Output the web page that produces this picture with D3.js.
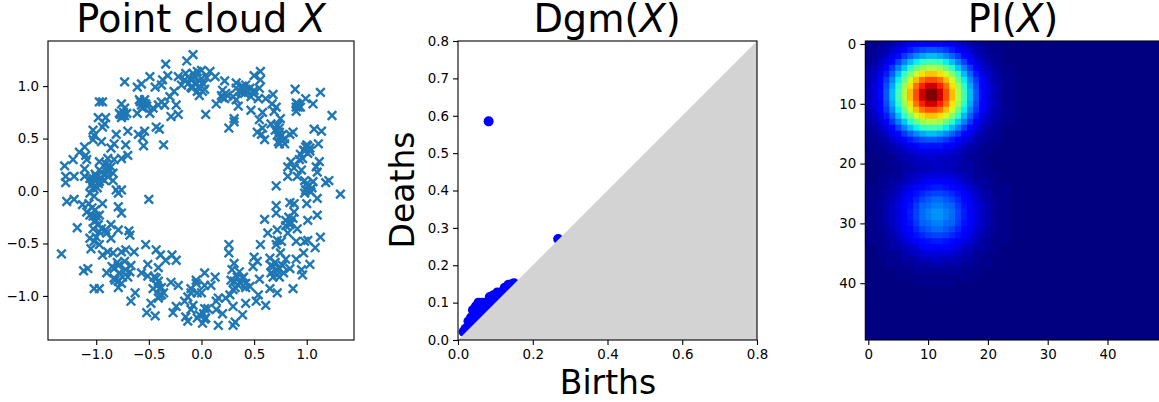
<!DOCTYPE html>
<html>
<head>
<meta charset="utf-8">
<script src="https://cdn.jsdelivr.net/npm/d3@7"></script>
<style>
  body { margin: 0; background: white; overflow: hidden; }
  text { font-family: "DejaVu Sans", sans-serif; fill: black; }
</style>
</head>
<body>
<div id="wrapper"></div>
<script>
// point cloud
const cloudX = [
  -0.08,-0.14,-0.34,-0.73,-0.61,-0.57,-0.49,-0.44,-0.37,-0.32,-0.38,-0.22,-0.15,-0.16,-0.08,-0.04,-0.11,-0.05,-0.04,-0.10,
  -0.19,-0.26,-0.30,-0.38,-0.35,-0.41,-0.24,-0.22,-0.29,-0.97,-0.94,-0.76,-0.73,-0.78,-0.75,-0.71,-0.76,-0.61,-0.59,-0.54,
  -0.57,-0.53,-0.56,-0.49,-0.46,-0.98,-0.91,-0.92,-0.94,-0.70,-1.03,-1.02,-0.81,-0.60,-0.54,-0.56,-0.43,-0.40,-0.55,-0.72,
  -0.36,-1.03,-0.95,-0.83,-0.86,-1.11,-1.16,-1.22,-1.30,-1.10,-1.09,-0.70,-0.76,-0.83,-0.89,-0.97,-0.91,-0.86,-0.84,-0.89,
  -0.95,-1.00,-1.11,-1.11,-1.06,-1.03,-0.97,-0.92,-0.89,-0.84,-1.21,-1.29,-1.29,-1.03,-0.81,-0.76,
  0.00,0.08,0.13,0.00,0.01,-0.02,0.22,0.50,0.56,0.56,0.20,0.19,0.22,0.33,0.38,0.42,0.36,0.41,0.46,0.50,
  0.55,0.30,0.33,0.35,0.14,0.47,0.54,0.61,0.68,0.67,0.71,0.69,0.47,0.58,0.04,0.31,0.31,0.26,0.55,0.75,
  0.66,0.72,0.74,0.58,0.53,0.57,0.60,0.72,0.76,0.79,0.74,0.79,0.87,0.84,0.89,0.99,1.13,1.06,0.91,0.90,
  0.92,0.90,1.24,1.07,1.14,1.11,1.00,1.03,0.98,1.01,0.96,0.93,0.85,0.82,0.88,1.12,1.09,1.10,0.95,0.82,
  0.91,0.98,1.06,1.01,0.99,1.21,1.18,0.71,
  -1.28,-1.21,-0.79,-0.50,-1.06,-1.02,-1.13,-0.94,-0.79,-0.76,-1.09,-1.06,-1.00,-0.97,-1.02,-1.18,-0.86,-1.03,-0.97,-0.91,
  -0.79,-0.69,-0.68,-0.86,-1.06,-1.02,-1.05,-0.97,-0.94,-0.89,-1.33,-0.84,-0.76,-0.72,-0.64,-0.53,-0.43,-0.39,-0.28,-0.34,
  -0.24,-0.51,-0.41,-1.08,-1.12,-0.90,-0.83,-0.79,-0.73,-0.67,-0.68,-0.78,-0.83,-0.70,-0.79,-0.76,-0.57,-0.51,-0.45,-0.41,
  -1.02,-0.97,-0.79,-0.63,-0.67,-0.46,-0.40,-0.29,-0.22,-0.38,-0.41,-0.48,-0.52,-0.44,-0.24,-0.27,-0.15,-0.13,-0.05,-0.10,
  -0.13,-0.16,-0.08,-0.10,-0.04,-0.04,
  1.32,0.98,1.04,1.10,1.00,0.71,0.71,0.84,0.88,1.10,0.60,0.80,0.87,0.84,1.01,0.91,0.72,0.63,0.82,0.56,
  0.72,0.71,0.76,0.90,0.98,1.01,1.13,1.08,0.97,0.26,0.26,0.75,0.50,0.53,0.65,0.90,0.31,0.49,0.29,0.36,
  0.66,0.71,0.77,0.84,1.03,0.96,0.95,0.66,0.74,0.03,0.13,0.55,0.39,0.31,0.35,0.42,0.46,0.87,0.09,0.03,
  0.65,0.30,0.27,0.72,0.54,0.16,0.23,0.00,0.14,0.61,0.42,0.52,0.03,0.30,0.14,0.20,0.39,0.04,0.01,0.16,
  0.30,0.32,-0.02,
  // the dense clumps
  -1.03,-1.00,-0.98,-0.95,-1.01,-0.97,-0.93,-1.05,-0.90,-0.99,
  -0.02,0.02,-0.07,-0.12,0.05,-0.03,0.03,-0.09,
  0.42,0.38,0.44,0.50,0.23,0.25,0.20,0.39,0.33,
  -0.55,-0.58,-0.52,-0.74,-0.77,-0.73,
  0.72,0.74,0.75,0.77,0.73,0.70,
  0.99,1.01,0.97,1.03,0.94,1.05,1.00,1.03,
  0.92,0.90,0.94,
  -1.00,-1.03,-0.98,-1.01,-1.07,-1.04,-0.95,-0.90,-1.00,
  0.83,0.85,0.80,0.88,
  0.68,0.70,0.74,0.78,0.72,0.68,0.80,
  0.34,0.37,0.32,0.40,0.28,0.42,
  -0.85,-0.80,-0.72,-0.75,-0.82,
  -0.42,-0.38,-0.40,-0.43,-0.36,
  -0.05,-0.10,0.03,0.02,0.06
];
const cloudY = [
  1.30,1.24,1.21,1.04,0.99,1.02,1.09,0.99,1.06,1.10,1.01,1.09,1.12,1.06,1.12,1.14,1.07,1.03,0.95,0.99,
  1.01,0.95,0.90,0.85,0.82,0.82,0.82,0.73,0.71,0.85,0.85,0.83,0.79,0.74,0.72,0.74,0.70,0.74,0.87,0.87,
  0.82,0.83,0.79,0.74,0.79,0.70,0.70,0.64,0.61,0.57,0.58,0.53,0.54,0.54,0.57,0.51,0.61,0.59,0.43,0.44,
  0.44,0.49,0.47,0.45,0.41,0.42,0.37,0.30,0.24,0.34,0.30,0.34,0.31,0.30,0.31,0.28,0.26,0.23,0.17,0.18,
  0.18,0.14,0.21,0.14,0.12,0.07,0.09,0.10,0.14,0.10,0.14,0.14,0.08,0.03,0.01,0.01,
  1.15,1.14,1.09,1.07,0.95,0.91,1.05,1.10,1.14,1.06,0.96,0.91,0.88,1.03,0.99,1.01,0.95,0.93,0.98,0.96,
  0.98,0.90,0.87,0.81,0.83,0.90,0.88,0.88,0.92,0.83,0.80,0.76,0.77,0.75,0.73,0.69,0.66,0.60,0.68,0.69,
  0.64,0.63,0.60,0.60,0.56,0.54,0.49,0.53,0.53,0.50,0.45,0.45,0.56,0.54,0.97,0.88,0.94,0.83,0.83,0.80,
  0.82,0.76,0.72,0.59,0.57,0.45,0.44,0.41,0.38,0.36,0.31,0.30,0.28,0.23,0.22,0.28,0.23,0.18,0.20,0.14,
  0.14,0.10,0.09,0.04,0.01,0.10,0.08,0.05,
  -0.10,-0.08,-0.02,-0.08,-0.02,-0.05,-0.13,-0.12,-0.15,-0.21,-0.20,-0.23,-0.24,-0.23,-0.29,-0.35,-0.32,-0.36,-0.39,-0.37,
  -0.37,-0.38,-0.42,-0.45,-0.45,-0.48,-0.55,-0.51,-0.61,-0.58,-0.60,-0.59,-0.58,-0.56,-0.58,-0.51,-0.56,-0.61,-0.61,-0.66,
  -0.66,-0.70,-0.73,-0.74,-0.76,-0.78,-0.74,-0.71,-0.67,-0.71,-0.77,-0.78,-0.83,-0.82,-0.86,-0.88,-0.78,-0.81,-0.82,-0.86,
  -0.93,-0.93,-0.92,-0.97,-1.05,-0.93,-0.93,-0.87,-0.90,-0.99,-1.02,-1.07,-1.16,-1.19,-1.10,-1.16,-1.20,-1.24,-0.85,-0.93,
  -1.01,-1.05,-1.09,-1.13,-0.97,-1.21,
  -0.03,-0.02,-0.01,-0.07,-0.12,-0.14,-0.21,-0.11,-0.12,-0.23,-0.27,-0.28,-0.26,-0.32,-0.28,-0.36,-0.37,-0.40,-0.40,-0.51,
  -0.47,-0.51,-0.48,-0.48,-0.48,-0.47,-0.44,-0.54,-0.59,-0.51,-0.59,-0.59,-0.63,-0.67,-0.64,-0.65,-0.69,-0.72,-0.75,-0.77,
  -0.71,-0.75,-0.71,-0.74,-0.70,-0.80,-0.75,-0.78,-0.82,-0.78,-0.82,-0.84,-0.83,-0.86,-0.90,-0.88,-0.91,-0.93,-0.90,-0.90,
  -0.93,-0.94,-0.99,-0.97,-0.99,-1.02,-1.02,-0.97,-1.05,-1.09,-1.07,-1.05,-1.12,-1.10,-1.13,-1.17,-1.18,-1.21,-1.26,-1.28,
  -1.28,-1.25,-1.18,
  // the dense clumps
  0.12,0.10,0.07,0.12,0.16,0.20,0.16,0.06,0.22,0.03,
  1.05,1.02,1.08,1.03,1.08,0.99,0.97,0.98,
  0.97,0.94,0.95,0.93,0.93,0.91,0.89,1.00,0.98,
  0.84,0.85,0.81,0.75,0.73,0.72,
  0.62,0.56,0.52,0.48,0.47,0.58,
  0.42,0.43,0.39,0.38,0.35,0.03,0.07,0.00,
  0.80,0.84,0.80,
  -0.28,-0.24,-0.32,-0.18,-0.12,-0.16,-0.36,-0.40,-0.44,
  -0.25,-0.30,-0.33,-0.20,
  -0.72,-0.68,-0.74,-0.78,-0.80,-0.82,-0.65,
  -0.82,-0.88,-0.92,-0.82,-0.85,-0.92,
  -0.72,-0.68,-0.75,-0.82,-0.85,
  -0.90,-0.92,-1.00,-0.83,-0.97,
  -0.88,-0.97,-1.22,-1.17,-1.12
];

// persistence diagram
const births = [0.082,0.268,0.015,0.02,0.028,0.035,0.04,0.048,0.055,0.065,0.075,0.085,0.095,0.105,0.115,0.125,0.135,0.145,0.15,
  0.03,0.04,0.05,0.06,0.07,0.08,0.09,0.1,0.11,0.12,0.13,0.14,0.05,0.06,0.07,0.08];
const deaths = [0.585,0.27,0.022,0.03,0.05,0.06,0.08,0.09,0.1,0.1,0.1,0.115,0.12,0.127,0.127,0.14,0.148,0.15,0.152,
  0.035,0.05,0.06,0.07,0.08,0.09,0.1,0.11,0.12,0.13,0.14,0.145,0.08,0.09,0.09,0.1];
const diagonalEnds = [0, 0.8];

// persistence image, percent of the top colour. First 25 columns, the rest is background
const imageRows = [
  [1,1,2,3,4,6,8,10,11,13,13,13,13,11,10,8,6,4,3,2,1,1,0,0,0],
  [1,2,3,4,7,9,12,15,18,20,21,21,20,18,15,12,9,7,4,3,2,1,1,0,0],
  [2,2,4,6,10,13,18,22,26,29,31,31,29,26,22,18,13,10,6,4,2,2,1,0,0],
  [2,3,6,9,13,19,25,31,36,41,43,43,41,36,31,25,19,13,9,6,3,2,1,0,0],
  [3,5,7,12,18,25,32,40,48,54,56,56,54,48,40,32,25,18,12,7,5,3,2,1,1],
  [4,6,9,15,22,31,41,51,60,67,70,70,67,60,51,41,31,22,15,9,6,4,2,1,1],
  [4,7,11,18,26,36,48,60,71,79,83,83,79,71,60,48,36,26,18,11,7,4,3,1,1],
  [5,8,12,20,29,40,54,67,79,88,93,93,88,79,67,54,40,29,20,12,8,5,3,1,1],
  [5,8,13,21,31,43,57,71,83,93,100,100,93,83,71,57,43,31,21,13,8,5,3,1,1],
  [5,8,13,21,31,43,57,71,83,93,100,100,93,83,71,57,43,31,21,13,8,5,3,1,1],
  [5,8,12,20,29,40,54,67,79,88,93,93,88,79,67,54,40,29,20,12,8,5,3,1,1],
  [4,7,11,18,26,36,48,60,71,79,83,83,79,71,60,48,36,26,18,11,7,4,3,1,1],
  [4,6,9,15,22,31,41,51,60,67,70,70,67,60,51,41,31,22,15,9,6,4,2,1,1],
  [3,5,7,12,18,25,32,40,48,54,56,56,54,48,40,32,25,18,12,7,5,3,2,1,1],
  [2,3,6,9,13,19,25,31,36,41,43,43,41,36,31,25,19,13,9,6,3,2,1,0,0],
  [2,2,4,6,10,13,18,22,26,29,31,31,29,26,22,18,13,10,6,4,2,2,1,0,0],
  [1,2,3,4,7,9,12,15,18,20,21,21,20,18,15,12,9,7,4,3,2,1,1,0,0],
  [1,1,2,3,4,6,8,10,12,14,14,14,14,12,11,8,6,4,3,2,1,1,0,0,0],
  [0,1,1,2,3,4,5,7,8,9,9,9,9,8,7,6,4,3,2,1,1,0,0,0,0],
  [0,0,1,1,1,3,4,4,6,6,7,7,6,6,5,5,3,2,2,1,0,0,0,0,0],
  [0,0,0,1,2,2,3,4,5,5,5,6,6,5,5,4,3,3,2,1,1,0,0,0,0],
  [0,0,0,1,1,2,3,3,4,5,5,6,6,5,5,4,3,3,2,1,1,0,0,0,0],
  [0,0,1,1,2,2,4,5,6,7,8,8,8,8,7,6,5,4,2,2,1,1,0,0,0],
  [0,0,1,2,3,3,5,6,8,10,11,12,12,11,10,8,6,5,3,3,2,1,0,0,0],
  [1,1,1,2,3,5,7,9,11,13,14,15,15,14,13,11,9,7,5,3,2,1,1,1,0],
  [1,1,1,3,4,6,9,11,14,16,18,19,19,18,16,14,11,9,6,4,3,1,1,1,0],
  [1,1,2,3,5,7,10,13,16,19,21,23,23,21,19,16,13,10,7,5,3,2,1,1,0],
  [1,1,2,4,6,8,11,14,18,22,23,25,25,23,22,18,14,11,8,6,4,2,1,1,0],
  [1,1,2,4,6,8,12,15,19,23,25,27,27,25,23,19,15,12,8,6,4,2,1,1,0],
  [1,1,2,4,6,8,12,15,19,23,25,27,27,25,23,19,15,12,8,6,4,2,1,1,0],
  [1,1,2,4,6,8,11,14,18,22,23,25,25,23,22,18,14,11,8,6,4,2,1,1,0],
  [1,1,2,3,5,7,10,13,16,19,21,23,23,21,19,16,13,10,7,5,3,2,1,1,0],
  [1,1,1,3,4,6,9,11,14,16,18,19,19,18,16,14,11,9,6,4,3,1,1,1,0],
  [1,1,1,2,3,5,7,9,11,13,14,15,15,14,13,11,9,7,5,3,2,1,1,1,0],
  [0,0,1,2,3,3,5,6,8,10,11,12,12,11,10,8,6,5,3,3,2,1,0,0,0],
  [0,0,1,1,2,2,4,5,6,7,8,8,8,8,7,6,5,4,2,2,1,1,0,0,0],
  [0,0,0,1,1,2,3,3,4,5,5,6,6,5,5,4,3,3,2,1,1,0,0,0,0],
  [0,0,0,1,1,1,2,2,3,3,3,4,4,3,3,3,2,2,1,1,1,0,0,0,0],
  [0,0,0,0,0,1,1,1,2,2,2,2,2,2,2,2,1,1,1,0,0,0,0,0,0],
  [0,0,0,0,0,0,1,1,1,1,1,1,1,1,1,1,1,1,0,0,0,0,0,0,0],
  [0,0,0,0,0,0,0,0,1,1,1,1,1,1,1,0,0,0,0,0,0,0,0,0,0]
];
const imageSize = [50, 50];

// tick labels
const cloudTicks = [-1, -0.5, 0, 0.5, 1];
const dgmTicksX = [0, 0.2, 0.4, 0.6, 0.8];
const dgmTicksY = [0, 0.1, 0.2, 0.3, 0.4, 0.5, 0.6, 0.7, 0.8];
const imageTicks = [0, 10, 20, 30, 40];

const jet = d3.scaleLinear()
  .domain([0, 0.11, 0.125, 0.35, 0.375, 0.64, 0.66, 0.89, 0.91, 1])
  .range(["#000080", "#0000ff", "#0000ff", "#00e5f7", "#14ffe2", "#eeff05", "#ffea00", "#ff1700", "#e80000", "#800000"])
  .clamp(true)

const svg = d3.select("#wrapper")
  .append("svg")
    .attr("width", 1159)
    .attr("height", 402)

const tickFontSize = 13.4
const minusFormat = d3.format(".1f")
const oneDecimal = d => minusFormat(d).replace("-", "\u2212")

function frame(g, w, h) {
  g.append("rect")
    .attr("width", w)
    .attr("height", h)
    .attr("fill", "none")
    .attr("stroke", "black")
    .attr("stroke-width", 1.1)
}

function axes(g, xScale, yScale, h, xTicks, yTicks, fmt) {
  const xAxis = g.append("g")
    .attr("transform", `translate(0,${h})`)
    .call(d3.axisBottom(xScale).tickValues(xTicks).tickFormat(fmt).tickSize(5).tickSizeOuter(0).tickPadding(4))
  const yAxis = g.append("g")
    .call(d3.axisLeft(yScale).tickValues(yTicks).tickFormat(fmt).tickSize(5).tickSizeOuter(0).tickPadding(4))
  for (const a of [xAxis, yAxis]) {
    a.select(".domain").remove()
    a.selectAll("line").attr("stroke", "black").attr("stroke-width", 1.1)
    a.selectAll("text").style("font-size", tickFontSize + "px").attr("fill", "black")
      .style("font-family", '"DejaVu Sans", sans-serif')
  }
}

function title(x, parts) {
  const t = svg.append("text")
    .attr("x", x)
    .attr("y", 32)
    .attr("text-anchor", "middle")
    .style("font-size", "38.3px")
  parts.forEach(p => t.append("tspan").text(p[0]).style("font-style", p[1] ? "oblique" : "normal"))
}

// Point cloud
const cloud = { left: 48, top: 41, width: 306, height: 299 }
const cloudG = svg.append("g").attr("transform", `translate(${cloud.left},${cloud.top})`)
const cloudXScale = d3.scaleLinear().domain([-1.458, 1.449]).range([0, cloud.width])
const cloudYScale = d3.scaleLinear().domain([-1.42, 1.43]).range([cloud.height, 0])
const crossPath = d3.symbol(d3.symbolTimes, 50)()

cloudG.selectAll("path.cross")
  .data(cloudX)
  .join("path")
    .attr("class", "cross")
    .attr("d", crossPath)
    .attr("transform", (d, i) => `translate(${cloudXScale(d)},${cloudYScale(cloudY[i])})`)
    .attr("fill", "none")
    .attr("stroke", "#1f77b4")
    .attr("stroke-width", 2.4)

frame(cloudG, cloud.width, cloud.height)
axes(cloudG, cloudXScale, cloudYScale, cloud.height, cloudTicks, cloudTicks, oneDecimal)
title(201, [["Point cloud ", false], ["X", true]])

// Persistence diagram
const dgm = { left: 458, top: 41, width: 299, height: 299 }
const dgmG = svg.append("g").attr("transform", `translate(${dgm.left},${dgm.top})`)
const dgmXScale = d3.scaleLinear().domain(diagonalEnds).range([0, dgm.width])
const dgmYScale = d3.scaleLinear().domain(diagonalEnds).range([dgm.height, 0])

dgmG.selectAll("circle")
  .data(births)
  .join("circle")
    .attr("cx", d => dgmXScale(d))
    .attr("cy", (d, i) => dgmYScale(deaths[i]))
    .attr("r", 5)
    .attr("fill", "#0000ff")

// everything under the diagonal is greyed out, it hides half of the low dots
const area = d3.area()
  .x(d => dgmXScale(d))
  .y0(dgm.height)
  .y1(d => dgmYScale(d))
dgmG.append("path")
  .attr("d", area(diagonalEnds))
  .attr("fill", "lightgrey")

frame(dgmG, dgm.width, dgm.height)
axes(dgmG, dgmXScale, dgmYScale, dgm.height, dgmTicksX, dgmTicksY, oneDecimal)
title(607, [["Dgm(", false], ["X", true], [")", false]])

svg.append("text")
  .attr("x", 608)
  .attr("y", 394)
  .attr("text-anchor", "middle")
  .style("font-size", "33px")
  .text("Births")

svg.append("text")
  .attr("transform", "translate(414,190) rotate(-90)")
  .attr("text-anchor", "middle")
  .style("font-size", "33px")
  .text("Deaths")

// Persistence image
const img = { left: 865.3, top: 41, width: 299, height: 299 }
const imgG = svg.append("g").attr("transform", `translate(${img.left},${img.top})`)
const imgXScale = d3.scaleLinear().domain([-0.5, imageSize[0] - 0.5]).range([0, img.width])
const imgYScale = d3.scaleLinear().domain([-0.5, imageSize[1] - 0.5]).range([0, img.height])

imgG.append("rect")
  .attr("width", img.width)
  .attr("height", img.height)
  .attr("fill", jet(0))

const cells = imageRows.flatMap((row, r) => row.map((v, c) => ({ r, c, v })))
imgG.selectAll("rect.cell")
  .data(cells.filter(d => d.v > 0))
  .join("rect")
    .attr("class", "cell")
    .attr("x", d => imgXScale(d.c - 0.5))
    .attr("y", d => imgYScale(d.r - 0.5))
    .attr("width", imgXScale(1) - imgXScale(0) + 0.5)
    .attr("height", imgYScale(1) - imgYScale(0) + 0.5)
    .attr("fill", d => jet(d.v / 100))

frame(imgG, img.width, img.height)
axes(imgG, imgXScale, imgYScale, img.height, imageTicks, imageTicks, d3.format("d"))
title(1013, [["PI(", false], ["X", true], [")", false]])
</script>
</body>
</html>
